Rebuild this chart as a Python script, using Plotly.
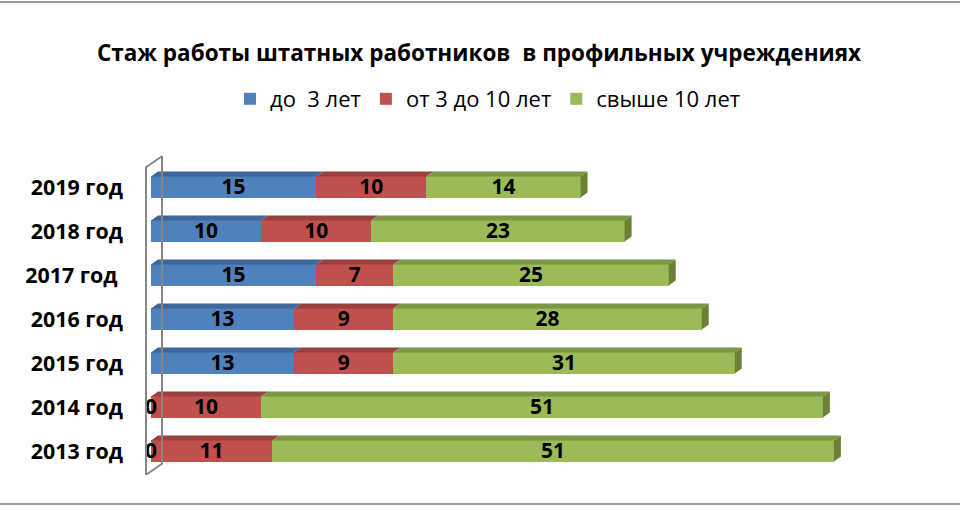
import plotly.graph_objects as go

# data (bottom to top, as on the chart)
years = ["2013 год", "2014 год", "2015 год", "2016 год", "2017 год\u00a0", "2018 год", "2019 год"]
series_names = ["до\u00a0 3 лет", "от 3 до 10 лет", "свыше 10 лет"]
up_to_3 = [0, 0, 13, 13, 15, 10, 15]
from_3_to_10 = [11, 10, 9, 9, 7, 10, 10]
over_10 = [51, 51, 31, 28, 25, 23, 14]

front_colors = ["#4F81BD", "#C0504D", "#9BBB59"]
top_colors = ["#3F6797", "#9A403E", "#7C9647"]
side_color = "#6A8236"
FONT = "Open Sans"

# layout in pixels
W, H = 960, 510
ML, MR, MT, MB = 140, 38, 154, 26
XMIN, XMAX = -1, 70
YMIN, YMAX = -0.75, 6.75
px_x = (W - ML - MR) / (XMAX - XMIN)
px_y = (H - MT - MB) / (YMAX - YMIN)

half = 0.24          # half bar height (y units)
dx = 7 / px_x        # 3d depth in data units
dy = 5 / px_y

ypos = list(range(len(years)))
values = [up_to_3, from_3_to_10, over_10]

fig = go.Figure()

starts = [0] * len(years)
seg_starts = []
for name, vals, col in zip(series_names, values, front_colors):
    fig.add_trace(go.Bar(
        y=ypos, x=vals, base=starts, orientation="h", name=name,
        width=half * 2, marker=dict(color=col, line=dict(width=0)),
    ))
    seg_starts.append(starts)
    starts = [s + v for s, v in zip(starts, vals)]

# top faces
for vals, st, col in zip(values, seg_starts, top_colors):
    xs, ys = [], []
    for y, s, v in zip(ypos, st, vals):
        if v == 0:
            continue
        yt = y + half
        xs += [s, s + v, s + v + dx, s + dx, s, None]
        ys += [yt, yt, yt + dy, yt + dy, yt, None]
    fig.add_trace(go.Scatter(x=xs, y=ys, fill="toself", fillcolor=col, mode="lines",
                             line=dict(width=0, color=col), showlegend=False, hoverinfo="skip"))

# right side faces of the last segment
xs, ys = [], []
for y, tot in zip(ypos, starts):
    xs += [tot, tot + dx, tot + dx, tot, tot, None]
    ys += [y - half, y - half + dy, y + half + dy, y + half, y - half, None]
fig.add_trace(go.Scatter(x=xs, y=ys, fill="toself", fillcolor=side_color, mode="lines",
                         line=dict(width=0, color=side_color), showlegend=False, hoverinfo="skip"))

# data labels
for vals, st in zip(values, seg_starts):
    fig.add_trace(go.Scatter(
        x=[s + v / 2 for s, v in zip(st, vals)], y=[y - 0.03 for y in ypos], mode="text",
        text=[str(v) for v in vals], textfont=dict(size=21, color="black", family=FONT, weight="bold"),
        showlegend=False, hoverinfo="skip", cliponaxis=False,
    ))

# axis wall (3d left wall outline)
wx0, wx1 = -5 / px_x, 11 / px_x
wb0, wt0 = -0.54, 6.45
wdy = 11 / px_y
fig.add_trace(go.Scatter(
    x=[wx0, wx0, wx1, wx1, wx0],
    y=[wb0, wt0, wt0 + wdy, wb0 + wdy, wb0],
    mode="lines", line=dict(color="#868686", width=2), showlegend=False, hoverinfo="skip",
))

fig.update_layout(
    width=W, height=H, barmode="stack",
    margin=dict(l=ML, r=MR, t=MT, b=MB),
    paper_bgcolor="white", plot_bgcolor="white",
    font=dict(family=FONT, color="black"),
    title=dict(text="<b>Стаж работы штатных работников\u00a0 в профильных учреждениях</b>",
               x=0.499, xref="container", xanchor="center",
               y=1 - 53 / H, yref="container", yanchor="middle",
               font=dict(size=22.5, color="black")),
    legend=dict(orientation="h", x=(488 - ML) / (W - ML - MR), xanchor="center",
                y=(H - MB - 99) / (H - MT - MB), yanchor="middle",
                font=dict(size=22), traceorder="normal", itemwidth=30),
    showlegend=True,
)
fig.update_xaxes(range=[XMIN, XMAX], visible=False)
fig.update_yaxes(range=[YMIN, YMAX], tickvals=ypos, ticktext=years, showgrid=False,
                 zeroline=False, showline=False, ticks="", ticklabelstandoff=16,
                 tickfont=dict(size=21.4, family=FONT, weight="bold", color="black"))

# outer frame lines (top and bottom)
pw, ph = W - ML - MR, H - MT - MB
for py in [2, H - 6]:
    fig.add_shape(type="line", xref="paper", yref="paper",
                  x0=-ML / pw, x1=(W - ML) / pw,
                  y0=(H - MB - py) / ph, y1=(H - MB - py) / ph,
                  line=dict(color="#9A9A9A", width=2))

fig.write_html("out.html", config={"displayModeBar": False},
               post_script="document.body.style.margin='0';")
